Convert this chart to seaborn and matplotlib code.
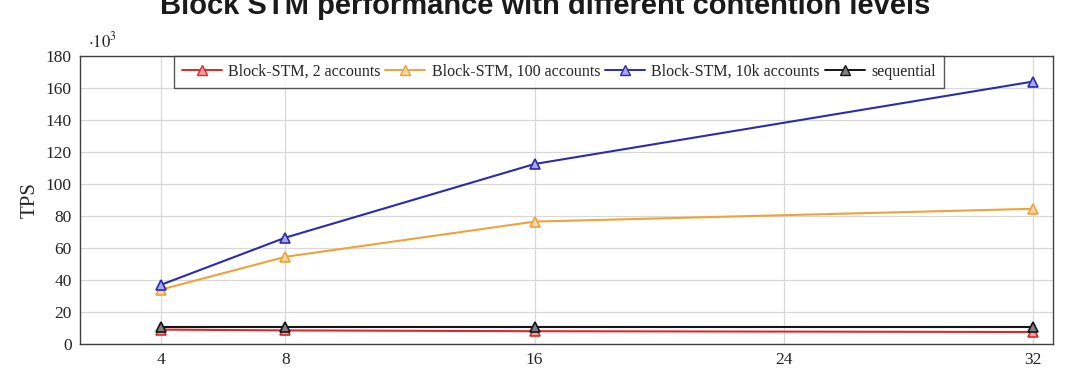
import pandas as pd
import numpy as np
import seaborn as sns
import matplotlib.pyplot as plt

# Data (TPS in thousands)
threads = [4, 8, 16, 32]
tps_2acc = [9, 8.5, 8, 7.5]
tps_100acc = [34, 54.5, 76.5, 84.5]
tps_10k = [37, 66.5, 112.5, 164]
tps_seq = [10.5, 10.5, 10.5, 10.5]
series_names = ['Block-STM, 2 accounts', 'Block-STM, 100 accounts',
                'Block-STM, 10k accounts', 'sequential']
colors = ['#e0262a', '#f0a23a', '#2b2bb0', '#151515']
faces = ['#f4a0a0', '#f9d6a4', '#a8a8ec', '#808080']
xticks = [4, 8, 16, 24, 32]
yticks = list(range(0, 181, 20))

df = pd.DataFrame({
    'threads': threads * 4,
    'tps': tps_2acc + tps_100acc + tps_10k + tps_seq,
    'series': np.repeat(series_names, len(threads)),
})

sns.set_style('white')
plt.rcParams['font.family'] = ['Liberation Serif', 'DejaVu Serif']
plt.rcParams['mathtext.fontset'] = 'stix'

fig = plt.figure(figsize=(10.8, 3.74), dpi=100)
ax = fig.add_axes([80 / 1080, 1 - 344 / 374, (1053 - 80) / 1080, (344 - 56) / 374])

sns.lineplot(data=df, x='threads', y='tps', hue='series', hue_order=series_names,
             palette=colors, ax=ax, legend=False, linewidth=1.5)
# triangle markers with light fill like pgfplots
for line, fc, ec in zip(ax.get_lines(), faces, colors):
    line.set_marker('^')
    line.set_markersize(7)
    line.set_markerfacecolor(fc)
    line.set_markeredgecolor(ec)
    line.set_markeredgewidth(1.2)

ax.set_xlim(1.4, 32.65)
ax.set_ylim(0, 180)
ax.set_xticks(xticks)
ax.set_yticks(yticks)
ax.tick_params(labelsize=12.5, length=0, pad=6)
ax.grid(True, color='#d8d8d8', linewidth=0.9)
for s in ax.spines.values():
    s.set_color('#404040')
    s.set_linewidth(1.0)
ax.set_xlabel('Number of threads', fontsize=14, labelpad=12)
ax.set_ylabel('TPS', fontsize=15, labelpad=4)

handles = [plt.Line2D([], [], color=c, marker='^', markerfacecolor=f, markeredgecolor=c,
                      markersize=6.5, linewidth=1.4) for c, f in zip(colors, faces)]
leg = ax.legend(handles, series_names, loc='upper center', ncol=4, fontsize=11.5,
                frameon=True, fancybox=False, edgecolor='#303030', borderpad=0.5,
                handlelength=2.5, handletextpad=0.4, columnspacing=0.3,
                borderaxespad=0, bbox_to_anchor=(0.492, 1.0))
leg.get_frame().set_linewidth(1.0)

fig.text(88 / 1080, 1 - 47 / 374, r'$\cdot 10^{3}$', fontsize=12)
fig.text(0.505, 1 - 14 / 374, 'Block STM performance with different contention levels',
         ha='center', va='baseline', fontsize=21, fontweight='bold',
         family=['Liberation Sans', 'DejaVu Sans'], color='#1a1a1a')

fig.savefig('out.png', dpi=100)
